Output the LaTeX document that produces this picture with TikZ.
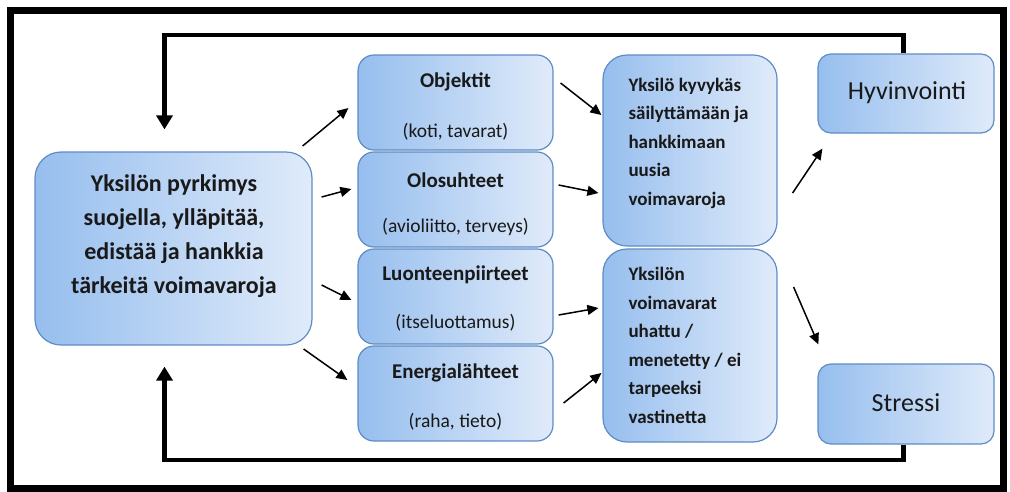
\documentclass[tikz,border=0pt]{standalone}
\usepackage{fontspec}
\setmainfont{Carlito}
\usetikzlibrary{arrows.meta}
\definecolor{boxdark}{RGB}{150,190,238}
\definecolor{boxlight}{RGB}{224,235,250}
\definecolor{boxedge}{RGB}{95,140,195}
\definecolor{txt}{RGB}{25,25,25}
\tikzset{
  box/.style={draw=boxedge, line width=1.2pt, left color=boxdark, right color=boxlight, inner sep=0pt},
  arr/.style={line width=1.5pt, -{Triangle[width=10pt,length=11pt]}},
  loopline/.style={line width=4.5pt, -{Triangle[width=16pt,length=14pt]}},
  frame/.style={line width=7pt},
  bigtxt/.style={font=\fontsize{24}{34}\bfseries\selectfont, text=txt, align=center},
  ttl/.style={font=\fontsize{21}{24}\bfseries\selectfont, text=txt},
  sub/.style={font=\fontsize{19.5}{22}\selectfont, text=txt},
  coltxt/.style={font=\fontsize{19}{28.5}\bfseries\selectfont, text=txt, align=left, anchor=west},
  endtxt/.style={font=\fontsize{26}{28}\selectfont, text=txt}
}
\begin{document}
\begin{tikzpicture}[x=1pt,y=-1pt]
\useasboundingbox (0,0) rectangle (1010,491);
\draw[frame] (10,10) rectangle (1003.5,488);

% left box
\node[box, rounded corners=26pt, minimum width=277pt, minimum height=193pt] (L) at (173.5,248.5) {};
\node[bigtxt] (Lt) at (174,236) {Yksilön pyrkimys\\suojella, ylläpitää,\\edistää ja hankkia\\tärkeitä voimavaroja};

% middle column
\node[box, rounded corners=16pt, minimum width=195pt, minimum height=95pt] (O) at (455.5,102.5) {};
\node[box, rounded corners=16pt, minimum width=195pt, minimum height=95pt] (Ol) at (455.5,199.5) {};
\node[box, rounded corners=16pt, minimum width=195pt, minimum height=95pt] (Lu) at (455.5,296.5) {};
\node[box, rounded corners=16pt, minimum width=195pt, minimum height=95pt] (En) at (455.5,393.5) {};
\node[ttl] (Ot) at (455.5,82) {Objektit};
\node[sub] (Os) at (455.5,132) {(koti, tavarat)};
\node[ttl] (Olt) at (455.5,180) {Olosuhteet};
\node[sub] (Ols) at (455.5,227) {(avioliitto, terveys)};
\node[ttl] (Lut) at (455.5,275) {Luonteenpiirteet};
\node[sub] (Lus) at (455.5,323) {(itseluottamus)};
\node[ttl] (Ent) at (455.5,373) {Energialähteet};
\node[sub] (Ens) at (455.5,422) {(raha, tieto)};

% third column
\node[box, rounded corners=24pt, minimum width=174pt, minimum height=191pt] (T1) at (690,150.5) {};
\node[box, rounded corners=24pt, minimum width=174pt, minimum height=193pt] (T2) at (690,345.5) {};
\node[coltxt] (T1t) at (625,143) {Yksilö kyvykäs\\säilyttämään ja\\hankkimaan\\uusia\\voimavaroja};
\node[coltxt] (T2t) at (625,345.5) {Yksilön\\voimavarat\\uhattu /\\menetetty / ei\\tarpeeksi\\vastinetta};

% right column
\node[box, rounded corners=13pt, minimum width=176pt, minimum height=79pt] (H) at (906,93.5) {};
\node[box, rounded corners=13pt, minimum width=176pt, minimum height=80pt] (S) at (906,404) {};
\node[endtxt] (Ht) at (907,93) {Hyvinvointi};
\node[endtxt] (St) at (906,403) {Stressi};

% feedback loops
\coordinate (topy) at (0,35);
\coordinate (boty) at (0,460);
\draw[loopline, shorten >=22pt] ([xshift=-2.5pt]H.north) -- ([xshift=-2.5pt]H.north |- topy) -| ([xshift=-9pt]L.north);
\draw[loopline, shorten >=21pt] ([xshift=-2.5pt]S.south) -- ([xshift=-2.5pt]S.south |- boty) -| ([xshift=-9pt]L.south);

% arrows
\draw[arr] ([shift={(-10,-102.5)}]L.east) -- ([shift={(-9,5.5)}]O.west);
\draw[arr] ([shift={(9,-51.5)}]L.east) -- ([shift={(-6,-10.5)}]Ol.west);
\draw[arr] ([shift={(9,36.5)}]L.east) -- ([shift={(-6,3.5)}]Lu.west);
\draw[arr] ([shift={(-9,100.5)}]L.east) -- ([shift={(-10,-13.5)}]En.west);
\draw[arr] ([shift={(7,-19.5)}]O.east) -- ([shift={(-1,-35.5)}]T1.west);
\draw[arr] ([shift={(5,-14.5)}]Ol.east) -- ([shift={(-4,42.5)}]T1.west);
\draw[arr] ([shift={(5,18.5)}]Lu.east) -- ([shift={(-4,-37.5)}]T2.west);
\draw[arr] ([shift={(10,9.5)}]En.east) -- ([shift={(-1,27.5)}]T2.west);
\draw[arr] ([shift={(15,42.5)}]T1.east) -- ([shift={(5,15)}]H.south west);
\draw[arr] ([shift={(16,-58.5)}]T2.east) -- ([shift={(1,-19)}]S.north west);
\end{tikzpicture}
\end{document}
